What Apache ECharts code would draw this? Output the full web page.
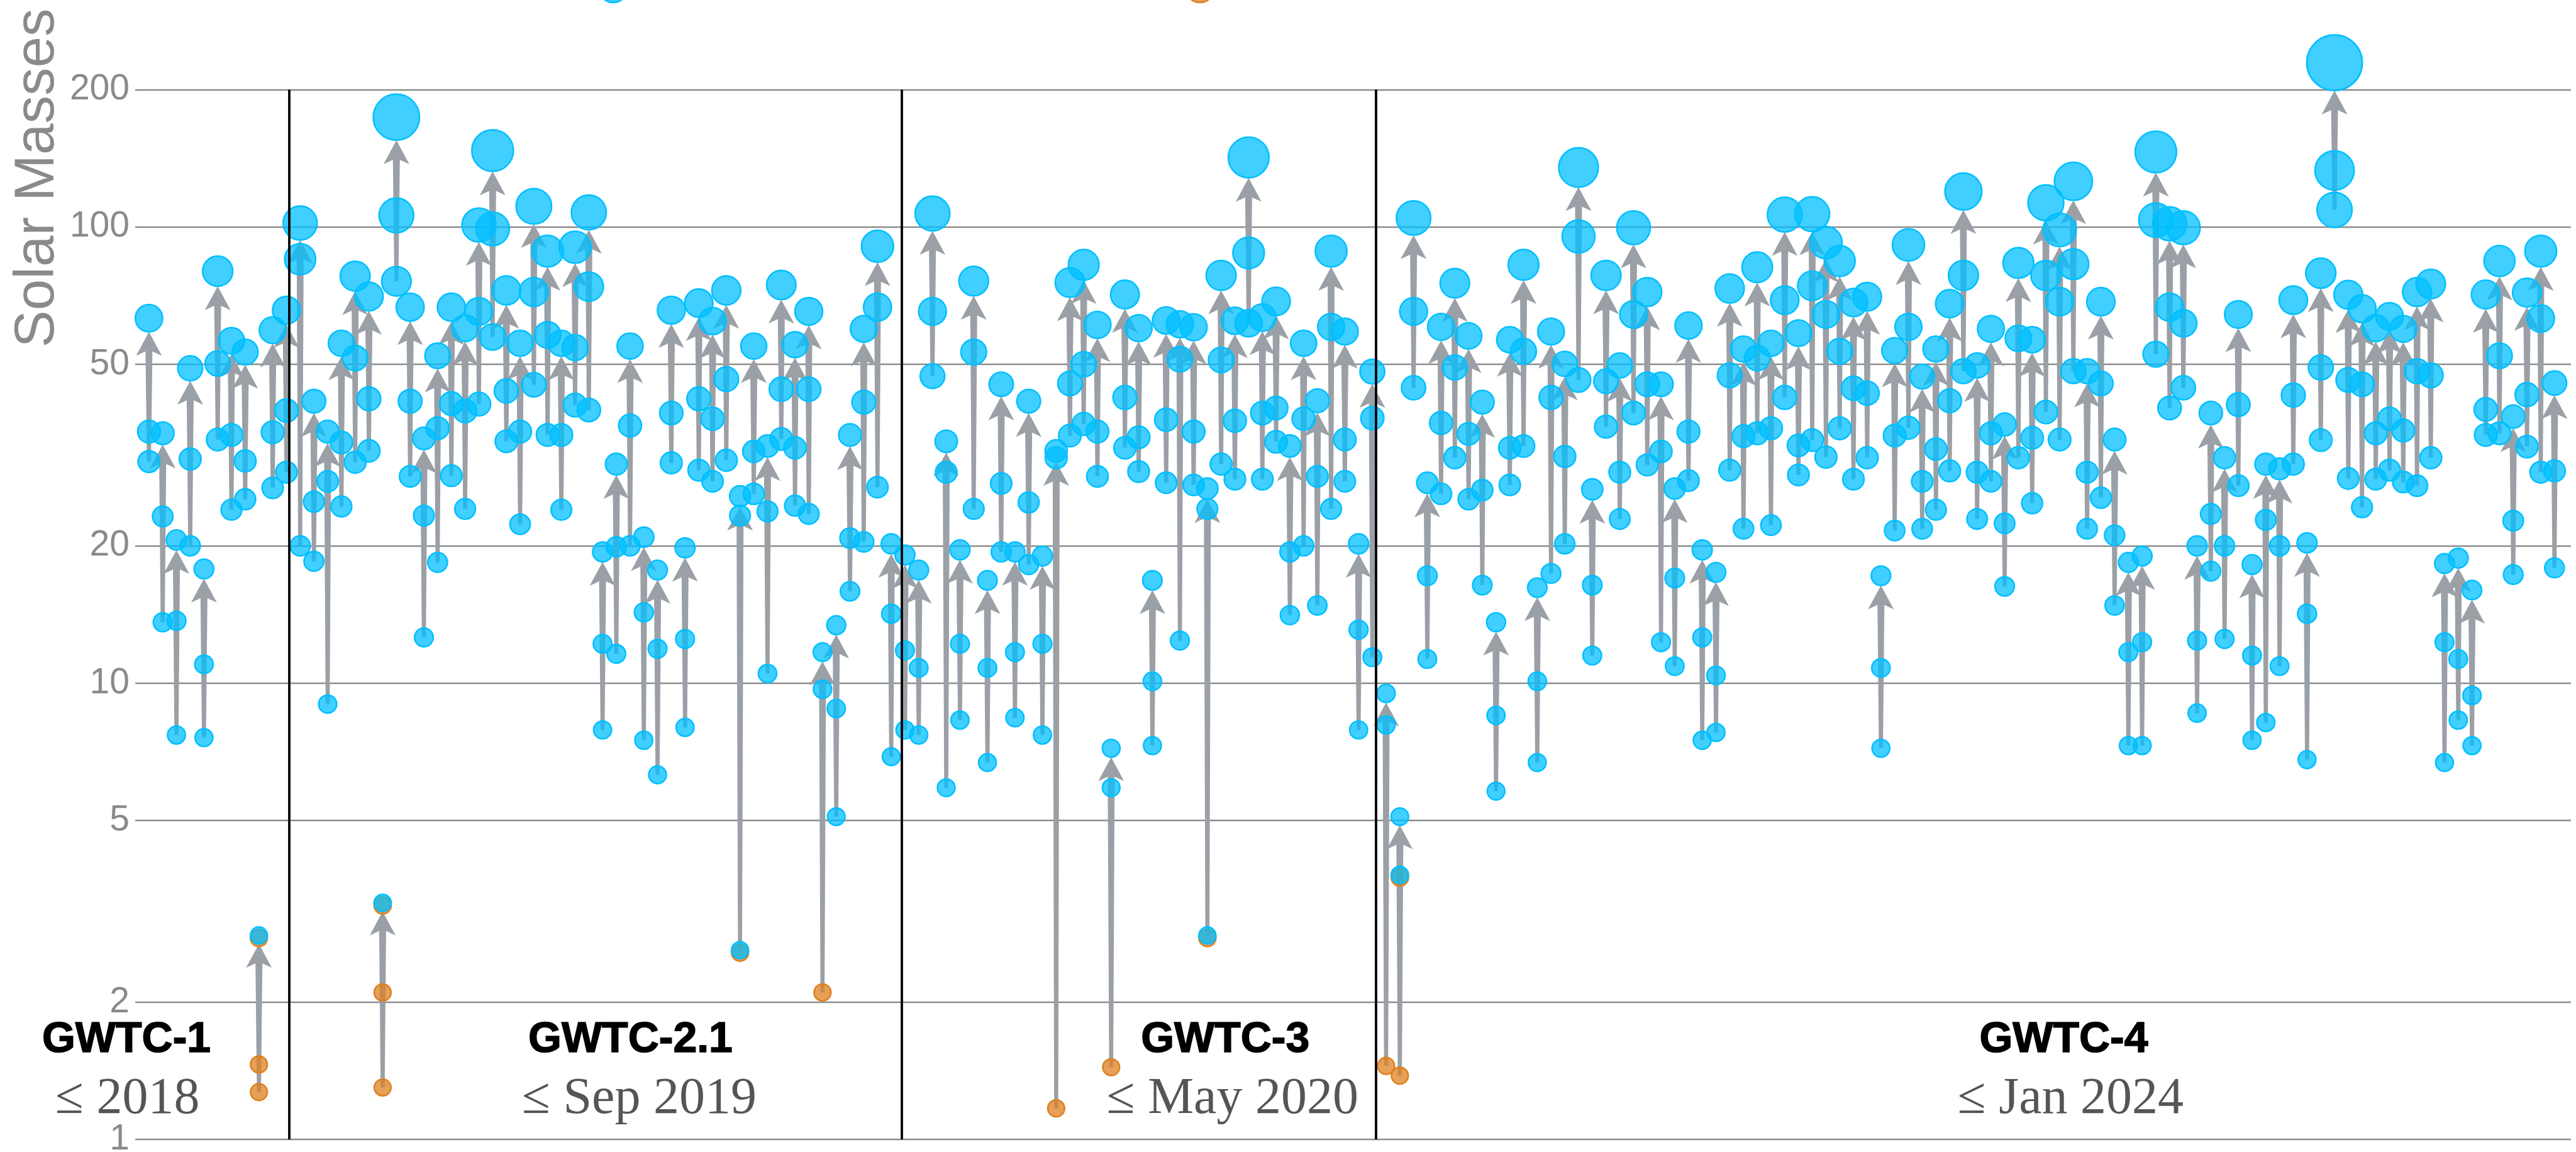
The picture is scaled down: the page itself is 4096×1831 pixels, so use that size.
<!DOCTYPE html>
<html lang="en">
<head>
<meta charset="UTF-8">
<title>Masses in the Stellar Graveyard</title>
<script src="https://cdn.jsdelivr.net/npm/echarts@6/dist/echarts.min.js"></script>
<style>
  html, body { margin: 0; padding: 0; background: #fff; }
  #main { width: 4096px; height: 1831px; }
</style>
</head>
<body>
<div id="main"></div>
<script>
// one entry per merger, in catalog order: primary, secondary and final mass (solar masses)
var m1 = [35.6, 23.2, 13.7, 31, 11, 50.2, 35, 30.7, 1.46, 35.5, 39.6,
  85, 25, 27.7, 33.7, 51.6, 42, 2.1, 106, 41.5, 23.3, 36.2, 41, 39.5, 65.3, 99, 43.7, 35.6, 72, 58, 35, 54.4, 74, 12.2, 19.9, 36.7, 14.3, 11.9, 39.1, 12.5, 42, 38, 46.4, 23.3, 32.2, 23.8, 44.1, 32.8, 44.1, 9.7, 8.8, 20.8, 41.3, 66.7, 14.2,
  11.8, 10.8, 65.3, 29, 12.2, 53.2, 10.8, 27.4, 11.7, 24.9, 12.2, 31.2, 45.4, 50, 35.6, 5.9, 42.3, 34.6, 10.1, 37.8, 51.3, 35.6, 24.1, 51.1, 37.6, 87.7, 39.1, 40.1, 19.4, 38, 28.4, 60.4, 34.2, 13.1, 38.1,
  8.1, 3.8, 65.3, 17.2, 37.2, 49.2, 35.2, 26.5, 8.5, 32.8, 53.4, 10.1, 42.3, 31.4, 95.3, 16.4, 45.9, 29, 64.3, 45.2, 32.2, 17, 35.6, 12.6, 10.4, 47.3, 34.8, 51.6, 36.2, 69.1, 33.2, 74.3, 64.3, 53.4, 44.3, 43.2, 10.8,
  34.9, 60.4, 27.7, 32.6, 41.6, 78.3, 29, 35.3, 22.4, 57, 34.5, 78.3, 68.6, 82.9, 29, 45.4, 21.1, 11.7, 12.3, 103.5, 66.7, 61.5, 12.4, 23.5, 20, 40.8, 11.5, 22.8, 20, 42.8, 14.2, 49.2, 133, 46.2, 45.2, 35.3, 38, 35.8, 48.3, 47.3, 12.3, 11.3, 9.4, 39.8, 52.2, 22.7, 42.9, 63, 29.2];
var m2 = [30.6, 13.6, 7.7, 20, 7.6, 34.2, 24, 25.3, 1.27, 26.8, 29,
  20, 18.5, 9.0, 24.4, 30.5, 32.3, 1.3, 76, 28.4, 12.6, 18.4, 28.5, 24.1, 40.9, 57.4, 33.9, 22.3, 45.1, 35, 24, 40.7, 39.7, 7.9, 11.6, 20, 7.5, 6.3, 30.4, 8.0, 29.3, 27.7, 30.8, 2.6, 26, 10.5, 34.3, 24.5, 23.5, 2.1, 5.1, 15.9, 20.4, 26.9, 6.9,
  7.9, 7.7, 47.1, 5.9, 8.3, 24.1, 6.7, 19.4, 8.4, 18.2, 7.7, 1.17, 34.9, 37, 28.4, 1.44, 32.8, 29.1, 7.3, 27.5, 12.4, 27.2, 2.8, 30.2, 28, 61.5, 28, 33.8, 14.1, 20, 14.8, 24.1, 27.7, 7.9, 11.4,
  1.45, 1.38, 44.4, 11.3, 26, 31.2, 25.3, 16.4, 5.8, 27.2, 33.1, 6.7, 17.4, 20.2, 46.2, 11.5, 36.5, 22.9, 39.1, 30.1, 12.3, 10.9, 27.8, 7.5, 7.8, 29.3, 21.8, 35.3, 22.2, 42.3, 28.6, 34.1, 31.3, 36.2, 28, 31.2, 7.2,
  21.6, 36.3, 21.8, 24, 29.2, 48.3, 22.9, 27.7, 16.3, 31.2, 24.8, 39.3, 34.2, 48.3, 21.8, 25.5, 14.8, 7.3, 7.3, 52.6, 40.1, 44.4, 8.6, 17.6, 12.5, 27.1, 7.5, 8.2, 10.9, 30.2, 6.8, 34.1, 109, 28.1, 24.3, 28, 29.3, 27.6, 27.1, 31.2, 6.7, 8.3, 7.3, 35, 35.3, 17.3, 33, 29, 17.9];
var mf = [63.1, 35.3, 20.6, 49, 17.8, 80, 56.3, 53.2, 2.8, 59.4, 65.7,
  102, 41.5, 35.6, 55.6, 78, 70.4, 3.3, 174, 66.7, 34.4, 52.2, 66.7, 60, 101, 147, 72.6, 55.6, 111, 88.5, 55.6, 90.3, 107.6, 19.4, 30.2, 54.8, 20.9, 17.7, 65.7, 19.8, 68.1, 62.2, 72.6, 25.7, 54.8, 33.1, 74.6, 55.2, 65.3, 11.7, 13.4, 35, 59.8, 90.7, 20.2,
  19.1, 17.7, 107, 33.9, 19.6, 76.1, 16.8, 45.2, 19.4, 41.5, 19, 32.3, 75.5, 82.6, 61, 7.2, 71.1, 60, 16.8, 62.4, 61.2, 60.3, 26.7, 78.3, 62.3, 142, 63.3, 68.7, 33.1, 55.6, 41.6, 88.5, 59, 20.2, 48.2,
  9.5, 5.1, 104.6, 27.5, 60.4, 75.3, 57.7, 41.3, 13.6, 56.6, 82.6, 16.2, 59, 50.1, 135, 26.6, 78.3, 49.7, 99.6, 72, 45.2, 26.7, 60.8, 19.6, 17.5, 73.3, 54, 81.6, 55.6, 106.4, 58.5, 106.7, 92.4, 84.2, 68.3, 70.3, 17.2,
  53.6, 91.3, 47, 54, 67.9, 119.6, 49.7, 59.8, 36.9, 83.4, 56.6, 113, 98.5, 125.9, 48.3, 68.6, 34.2, 18.4, 19, 146, 101.6, 99.6, 20, 39.1, 31.2, 64.3, 18.2, 30.2, 29.5, 69.1, 20.3, 79.2, 229, 71, 66.2, 60, 63.7, 59.8, 72, 75, 18.3, 18.8, 16, 71.1, 84.2, 38.4, 71.8, 88.5, 45.5];

// events with neutron stars: [event, primary, secondary, final]  b = black hole, o = neutron star, d = either
var nsEvents = [
  [8, 'o', 'o', 'd'], [17, 'o', 'o', 'd'], [43, 'b', 'd', 'b'], [49, 'b', 'o', 'b'], [66, 'b', 'o', 'b'],
  [70, 'b', 'o', 'b'], [77, 'b', 'd', 'b'], [90, 'b', 'o', 'b'], [91, 'd', 'o', 'b']
];

var gridValues = [1, 2, 5, 10, 20, 50, 100, 200];
var catalogs = ['GWTC-1', 'GWTC-2.1', 'GWTC-3', 'GWTC-4'];
var periods = ['\u2264 2018', '\u2264 Sep 2019', '\u2264 May 2020', '\u2264 Jan 2024'];
var catalogX = [-1.64, 35.03, 78.3, 139.3];
var periodX = [-1.56, 35.67, 78.83, 139.8];
var dividers = [10.2, 54.74, 89.28];

var S = 0.821;
function dotSize(m) { return S * (32 + 0.33 * m); }

var kinds = {};
nsEvents.forEach(function (e) { kinds[e[0]] = e.slice(1); });

var blue = [], orange = [], under = [], arrows = [];
for (var i = 0; i < mf.length; i++) {
  var k = kinds[i] || ['b', 'b', 'b'];
  [m1[i], m2[i], mf[i]].forEach(function (m, j) {
    if (k[j] === 'o') orange.push([i, m]);
    else {
      if (k[j] === 'd') under.push([i, m]);
      blue.push([i, m]);
    }
  });
  arrows.push([i, Math.min(m1[i], m2[i]), mf[i]]);
}

var chart = echarts.init(document.getElementById('main'));

// grey arrow from the lighter component up to the rim of the final-mass dot
function renderArrow(params, api) {
  var low = api.coord([api.value(0), api.value(1)]);
  var top = api.coord([api.value(0), api.value(2)]);
  var x = low[0], y0 = low[1];
  var tip = top[1] + dotSize(api.value(2)) / 2;
  var hl = Math.min(38, Math.max(0, (y0 - tip) * 0.9));
  var hw = 20.5, notch = 7 * hl / 38, wt = 11, wb = 6.5;
  return {
    type: 'polygon',
    shape: {
      points: [
        [x - wb / 2, y0], [x - wt / 2, tip + hl - notch], [x - hw, tip + hl], [x, tip],
        [x + hw, tip + hl], [x + wt / 2, tip + hl - notch], [x + wb / 2, y0]
      ]
    },
    style: { fill: '#9aa0a6' }
  };
}

// catalog names and periods, placed in data units under each block
function renderLabel(params, api) {
  var p = api.coord([api.value(0), api.value(1)]);
  var j = params.dataIndex;
  var bold = params.seriesName === 'catalogs';
  return {
    type: 'text', x: p[0], y: p[1],
    style: {
      text: bold ? catalogs[j] : periods[j],
      fill: bold ? '#000' : '#555',
      stroke: bold ? '#000' : null, lineWidth: bold ? 1.5 : 0,
      font: bold ? 'bold 68px "Liberation Sans", Arial, sans-serif' : '82px "Liberation Serif", "Times New Roman", serif',
      align: 'center', verticalAlign: 'middle'
    }
  };
}

chart.setOption({
  animation: false,
  grid: { left: 215, right: 8, top: 142.4, bottom: 19.9 },
  xAxis: {
    type: 'value', min: -1, max: 176.2,
    axisLine: { show: false }, axisTick: { show: false }, axisLabel: { show: false }, splitLine: { show: false }
  },
  yAxis: {
    type: 'log', min: 1, max: 200,
    axisLine: { show: false }, axisTick: { show: false }, axisLabel: { show: false }, splitLine: { show: false }
  },
  graphic: [
    {
      type: 'text', x: 60, y: 283, rotation: Math.PI / 2,
      style: {
        text: 'Solar Masses', fill: '#8a8a8a', font: '89px "Liberation Sans", Arial, sans-serif',
        textAlign: 'center', textVerticalAlign: 'middle'
      }
    },
    { type: 'circle', shape: { cx: 975, cy: -19, r: 23 }, style: { fill: 'rgba(0,191,255,0.75)', stroke: '#00bfff', lineWidth: 2.5 } },
    { type: 'circle', shape: { cx: 1908, cy: -19, r: 23 }, style: { fill: 'rgba(222,128,32,0.75)', stroke: '#de8020', lineWidth: 2.5 } }
  ],
  series: [
    {
      name: 'grid', type: 'scatter', data: [], z: 0,
      markLine: {
        z: 1, silent: true, symbol: ['none', 'none'], animation: false,
        lineStyle: { type: 'solid', color: '#8c8c8c', width: 2.3 },
        label: {
          show: true, position: 'start', distance: 9, color: '#8a8a8a', fontSize: 57,
          fontFamily: '"Liberation Sans", Arial, sans-serif',
          formatter: function (p) { return p.value; }
        },
        emphasis: { disabled: true },
        data: gridValues.map(function (v) { return { yAxis: v }; })
      }
    },
    {
      name: 'arrows', type: 'custom', z: 2, silent: true,
      renderItem: renderArrow,
      encode: { x: 0, y: [1, 2] },
      data: arrows
    },
    {
      name: 'either', type: 'scatter', z: 3, clip: false, silent: true,
      symbolSize: function (v) { return dotSize(v[1]); },
      symbolOffset: [0, 4],
      itemStyle: { color: 'rgba(222,128,32,0.75)', borderColor: '#de8020', borderWidth: 2.5, opacity: 1 },
      data: under
    },
    {
      name: 'Neutron Stars', type: 'scatter', z: 3, clip: false, silent: true,
      symbolSize: function (v) { return dotSize(v[1]); },
      itemStyle: { color: 'rgba(222,128,32,0.75)', borderColor: '#de8020', borderWidth: 2.5, opacity: 1 },
      data: orange
    },
    {
      name: 'Black Holes', type: 'scatter', z: 4, clip: false, silent: true,
      symbolSize: function (v) { return dotSize(v[1]); },
      itemStyle: { color: 'rgba(0,191,255,0.75)', borderColor: '#00bfff', borderWidth: 2.5, opacity: 1 },
      data: blue
    },
    {
      name: 'catalogs', type: 'custom', z: 6, silent: true,
      renderItem: renderLabel,
      encode: { x: 0, y: 1 },
      data: catalogX.map(function (x) { return [x, 1.652]; }),
      markLine: {
        z: 8, silent: true, symbol: ['none', 'none'], animation: false,
        lineStyle: { type: 'solid', color: '#000', width: 3.8 },
        label: { show: false },
        emphasis: { disabled: true },
        data: dividers.map(function (v) { return { xAxis: v }; })
      }
    },
    {
      name: 'periods', type: 'custom', z: 6, silent: true,
      renderItem: renderLabel,
      encode: { x: 0, y: 1 },
      data: periodX.map(function (x) { return [x, 1.224]; })
    }
  ]
});
</script>
</body>
</html>
